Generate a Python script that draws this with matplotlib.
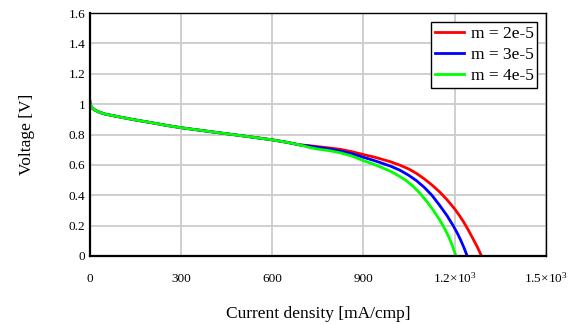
import matplotlib
matplotlib.use("Agg")
import matplotlib.pyplot as plt

plt.rcParams['font.family'] = ['Liberation Serif', 'DejaVu Serif']
plt.rcParams['mathtext.fontset'] = 'custom'
plt.rcParams['mathtext.rm'] = 'Liberation Serif'
plt.rcParams['mathtext.it'] = 'Liberation Serif:italic'

# shared low-current part
i_common = [0, 2, 5, 10, 20, 35, 50, 75, 100, 150, 200, 250, 300, 400, 500, 600, 650, 690]
v_common = [1.035, 1.005, 0.985, 0.972, 0.958, 0.945, 0.935, 0.925, 0.915, 0.896, 0.879, 0.861, 0.845, 0.818, 0.792, 0.765, 0.748, 0.732]

# divergent high-current parts
i_red = [720, 750, 790, 822, 860, 900, 930, 954, 990, 1020, 1050, 1075, 1100, 1125, 1150, 1175, 1200, 1215, 1230, 1245, 1260, 1275, 1288]
v_red = [0.727, 0.720, 0.711, 0.703, 0.688, 0.668, 0.654, 0.641, 0.620, 0.598, 0.572, 0.543, 0.508, 0.468, 0.423, 0.370, 0.310, 0.268, 0.222, 0.170, 0.114, 0.057, 0.0]

i_blue = [720, 750, 790, 822, 860, 900, 930, 954, 990, 1020, 1050, 1075, 1100, 1125, 1150, 1175, 1195, 1210, 1220, 1230, 1241]
v_blue = [0.724, 0.715, 0.704, 0.692, 0.675, 0.650, 0.632, 0.616, 0.591, 0.565, 0.530, 0.495, 0.452, 0.400, 0.335, 0.265, 0.200, 0.145, 0.103, 0.057, 0.0]

i_green = [720, 750, 790, 822, 860, 900, 930, 954, 980, 1000, 1020, 1040, 1063, 1086, 1110, 1130, 1150, 1165, 1180, 1192, 1204]
v_green = [0.716, 0.704, 0.693, 0.680, 0.660, 0.628, 0.607, 0.588, 0.566, 0.546, 0.523, 0.497, 0.460, 0.413, 0.355, 0.300, 0.240, 0.188, 0.128, 0.070, 0.0]

labels = ['m = 2e-5', 'm = 3e-5', 'm = 4e-5']
colors = ['#ff0000', '#0000ff', '#00ff00']

x_ticks = [0, 300, 600, 900, 1200, 1500]
x_ticklabels = ['0', '300', '600', '900', r'$1.2{\times}10^{3}$', r'$1.5{\times}10^{3}$']
y_ticks = [0, 0.2, 0.4, 0.6, 0.8, 1.0, 1.2, 1.4, 1.6]
y_ticklabels = ['0', '0.2', '0.4', '0.6', '0.8', '1', '1.2', '1.4', '1.6']

fig = plt.figure(figsize=(5.76, 3.25), dpi=100)
ax = fig.add_axes([89.5/576, 1 - 256/325, (546 - 89.5)/576, (256 - 13)/325])

series = [(i_red, v_red), (i_blue, v_blue), (i_green, v_green)]
for (ii, vv), lab, col in zip(series, labels, colors):
    ax.plot(i_common + ii, v_common + vv, color=col, lw=2.0, label=lab)

ax.set_xlim(0, 1500)
ax.set_ylim(0, 1.6)
ax.set_xticks(x_ticks)
ax.set_xticklabels(x_ticklabels, fontsize=9.5)
ax.set_yticks(y_ticks)
ax.set_yticklabels(y_ticklabels, fontsize=9.5)
ax.tick_params(axis='both', length=0)
ax.tick_params(axis='x', pad=19)
ax.tick_params(axis='y', pad=3)
for lbl in ax.get_xticklabels():
    lbl.set_verticalalignment('baseline')
ax.grid(True, color='#cccccc', lw=1.3)
ax.set_axisbelow(True)
for s in ['left', 'bottom']:
    ax.spines[s].set_linewidth(1.6)
for s in ['top', 'right']:
    ax.spines[s].set_linewidth(1.0)

ax.set_xlabel('Current density [mA/cmp]', fontsize=12.5, labelpad=15)
ax.set_ylabel('Voltage [V]', fontsize=12.5, labelpad=24)

leg = ax.legend(loc='upper right', bbox_to_anchor=(0.98, 0.963), fontsize=12.5,
                frameon=True, fancybox=False, edgecolor='black', framealpha=1,
                handlelength=1.7, handletextpad=0.35, borderpad=0.2,
                labelspacing=0.3, borderaxespad=0)
leg.get_frame().set_linewidth(1.0)

fig.savefig('out.png', dpi=100)
